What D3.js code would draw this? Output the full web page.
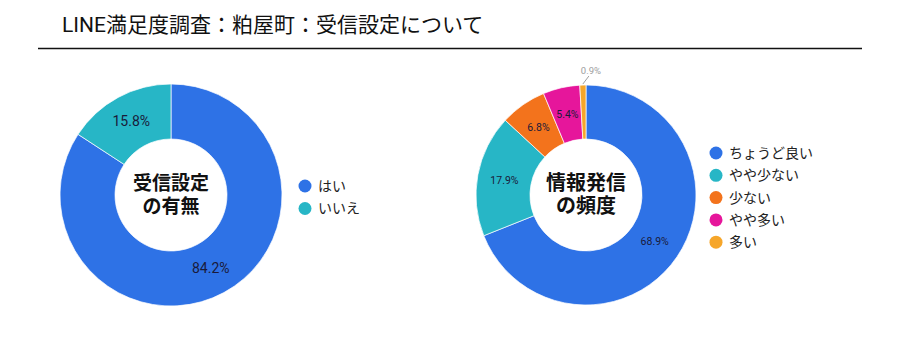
<!DOCTYPE html>
<html><head><meta charset="utf-8">
<script src="https://cdn.jsdelivr.net/npm/d3@7"></script>
<style>
html,body{margin:0;padding:0;background:#fff;}
svg{display:block;font-family:Roboto,"Noto Sans CJK JP",sans-serif;}
</style></head>
<body><svg id="c" width="900" height="354"></svg>
<script>
const title = "LINE満足度調査：粕屋町：受信設定について";

const cat1 = ["はい", "いいえ"];
const val1 = [84.2, 15.8];
const col1 = ["#2e72e6", "#27b6c6"];
const center1 = ["受信設定", "の有無"];

const cat2 = ["ちょうど良い", "やや少ない", "少ない", "やや多い", "多い"];
const val2 = [68.9, 17.9, 6.8, 5.4, 0.9];
const col2 = ["#2e72e6", "#27b6c6", "#f3731c", "#e6169b", "#f6a62a"];
const center2 = ["情報発信", "の頻度"];

const svg = d3.select("#c");
const jp = "Roboto,'Noto Sans CJK JP',sans-serif";

svg.append("text").attr("x", 62).attr("y", 32).attr("font-size", 21)
  .attr("font-family", jp).attr("fill", "#111").text(title);
svg.append("line").attr("x1", 38).attr("x2", 862).attr("y1", 48.5).attr("y2", 48.5)
  .attr("stroke", "#111").attr("stroke-width", 1.6);

function donut(cfg) {
  const g = svg.append("g").attr("transform", `translate(${cfg.cx},${cfg.cy})`);
  const pie = d3.pie().sort(null).value(d => d)(cfg.vals);
  const arc = d3.arc().innerRadius(cfg.ri).outerRadius(cfg.ro);
  const lab = d3.arc().innerRadius((cfg.ri + cfg.ro) / 2).outerRadius((cfg.ri + cfg.ro) / 2);
  g.selectAll("path").data(pie).join("path")
    .attr("d", arc).attr("fill", (d, i) => cfg.cols[i])
    .attr("stroke", "#fff").attr("stroke-width", 0.7);
  pie.forEach((d, i) => {
    const txt = d3.format(".1f")(cfg.vals[i]) + "%";
    if (cfg.vals[i] < 2) {
      const a = (d.startAngle + d.endAngle) / 2;
      const p1 = [Math.sin(a) * (cfg.ro + 1), -Math.cos(a) * (cfg.ro + 1)];
      const p2 = [Math.sin(a) * (cfg.ro) + 6, -Math.cos(a) * (cfg.ro) - 9];
      g.append("line").attr("x1", p1[0]).attr("y1", p1[1]).attr("x2", p2[0]).attr("y2", p2[1])
        .attr("stroke", "#9e9e9e").attr("stroke-width", 1);
      g.append("text").attr("x", p2[0] + 2).attr("y", p2[1] - 2).attr("text-anchor", "middle")
        .attr("font-size", cfg.lfs - 1).attr("fill", "#9e9e9e").text(txt);
    } else {
      const c = lab.centroid(d);
      g.append("text").attr("x", c[0]).attr("y", c[1]).attr("dy", "0.35em")
        .attr("text-anchor", "middle").attr("font-size", cfg.lfs).attr("fill", "#1a1a3a").text(txt);
    }
  });
  cfg.center.forEach((t, i) => {
    g.append("text").attr("x", 0).attr("y", -12 + i * 23).attr("dy", "0.35em")
      .attr("text-anchor", "middle").attr("font-size", cfg.cfs).attr("font-weight", "bold")
      .attr("font-family", jp).attr("fill", "#111").text(t);
  });
  const lg = svg.append("g").attr("transform", `translate(${cfg.lx},${cfg.ly})`);
  cfg.cats.forEach((c, i) => {
    lg.append("circle").attr("cx", 0).attr("cy", i * cfg.lstep).attr("r", 6.5).attr("fill", cfg.cols[i]);
    lg.append("text").attr("x", 13).attr("y", i * cfg.lstep).attr("dy", "0.35em")
      .attr("font-size", 14).attr("font-family", jp).attr("fill", "#222").text(c);
  });
}

donut({cx: 171, cy: 195, ri: 56, ro: 111, vals: val1, cols: col1, cats: cat1, center: center1,
  lfs: 14, cfs: 19, lx: 305, ly: 186, lstep: 22.5});
donut({cx: 586, cy: 195, ri: 56, ro: 110, vals: val2, cols: col2, cats: cat2, center: center2,
  lfs: 10.5, cfs: 20, lx: 716, ly: 153, lstep: 22.3});
</script></body></html>
